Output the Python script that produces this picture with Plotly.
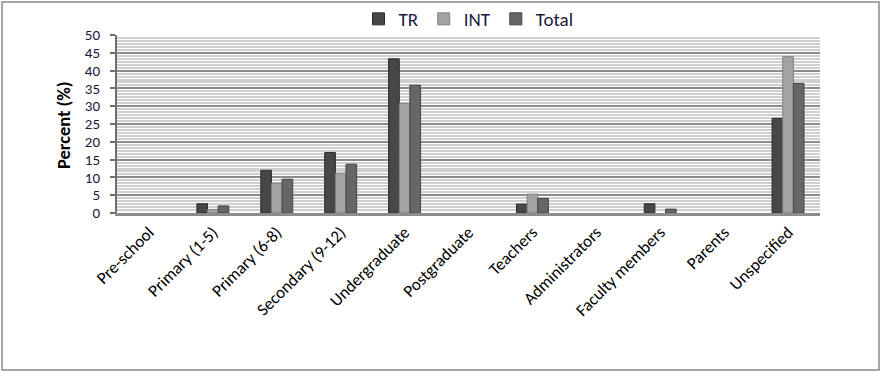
import plotly.graph_objects as go

categories = ["Pre-school", "Primary (1-5)", "Primary (6-8)", "Secondary (9-12)",
              "Undergraduate", "Postgraduate", "Teachers", "Administrators",
              "Faculty members", "Parents", "Unspecified"]
tr_values = [0, 2.6, 12.0, 17.0, 43.3, 0, 2.5, 0, 2.6, 0, 26.6]
int_values = [0, 1.0, 8.4, 11.2, 30.8, 0, 5.3, 0, 0, 0, 43.9]
total_values = [0, 2.0, 9.5, 13.7, 35.9, 0, 4.1, 0, 1.1, 0, 36.4]
y_ticks = [0, 5, 10, 15, 20, 25, 30, 35, 40, 45, 50]

FONT = "Carlito, Lato, 'Open Sans', sans-serif"
L, R, T, B, W, H = 117, 62, 35, 160, 882, 373
PW, PH = W - L - R, H - T - B

fig = go.Figure()
series = [("TR", tr_values, "#474747", "#2a2a2a"),
          ("INT", int_values, "#a3a3a3", "#808080"),
          ("Total", total_values, "#666666", "#444444")]
for name, vals, col, edge in series:
    fig.add_trace(go.Bar(
        x=categories, y=[v if v else None for v in vals], name=name,
        marker=dict(color=col, line=dict(color=edge, width=1)),
    ))

fig.update_layout(
    width=W, height=H,
    margin=dict(l=L, r=R, t=T, b=B, autoexpand=False),
    paper_bgcolor="white", plot_bgcolor="white",
    barmode="group", bargap=0.5, bargroupgap=0.0,
    font=dict(family=FONT, color="#000000"),
    legend=dict(orientation="h", x=0.5, xanchor="center", y=1 - 3 / PH, yanchor="bottom",
                font=dict(size=19, color="#1a1a40", family=FONT),
                itemwidth=30, tracegroupgap=0, bgcolor="rgba(0,0,0,0)"),
    showlegend=True,
)
fig.update_yaxes(
    range=[0, 50], tickvals=y_ticks, automargin=False,
    tickfont=dict(size=15, color="#1a1a40", family=FONT),
    ticklabelstandoff=7,
    showgrid=True, gridcolor="#8c8c8c", gridwidth=1.5,
    minor=dict(dtick=5/6, showgrid=True, gridcolor="#cfcfcf", gridwidth=1.5, ticks=""),
    showline=True, linecolor="#6e6e6e", linewidth=2,
    ticks="outside", ticklen=5, tickcolor="#6e6e6e", tickwidth=1.5,
    zeroline=False,
)
fig.update_xaxes(
    tickangle=-45, automargin=False,
    tickfont=dict(size=17, color="#000000", family=FONT),
    showline=True, linecolor="#8c8c8c", linewidth=2.5,
    ticks="", showgrid=False,
)
fig.add_annotation(text="<b>Percent (%)</b>", textangle=-90, xref="paper", yref="paper",
                   x=(63 - L) / PW, y=(213 - 125) / PH, xanchor="center", yanchor="middle",
                   showarrow=False, font=dict(size=18.5, color="#000000", family=FONT))
fig.add_shape(type="rect", xref="paper", yref="paper",
              x0=(2 - L) / PW, x1=(W - 3 - L) / PW, y0=-(H - 3 - T - PH) / PH, y1=1 + (T - 2) / PH,
              line=dict(color="#8a8a8a", width=1.5))

fig.write_html("out.html", config={"displayModeBar": False},
               post_script="document.body.style.margin='0';document.body.style.overflow='hidden';")
